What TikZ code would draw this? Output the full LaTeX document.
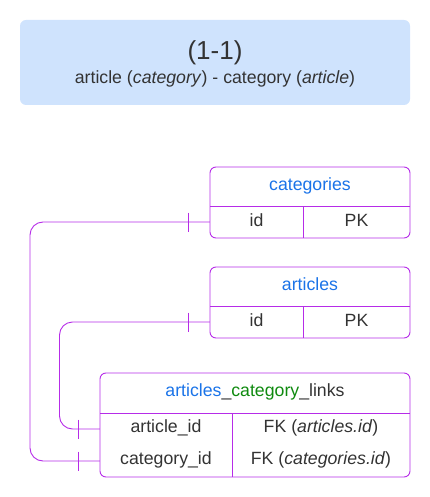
\documentclass[tikz,border=0pt]{standalone}
\usepackage{fontspec}
\setmainfont{Liberation Sans}
\definecolor{ercol}{HTML}{B62CE8}
\definecolor{hdrfill}{HTML}{CFE3FD}
\definecolor{txt}{HTML}{333333}
\definecolor{tblue}{HTML}{1A73E8}
\definecolor{tgreen}{HTML}{0F8A0F}
\begin{document}
\begin{tikzpicture}[x=1pt,y=-1pt,
  erline/.style={draw=ercol, line width=0.9pt},
  tbl/.style={draw=ercol, line width=0.9pt, rounded corners=6pt, inner sep=0pt},
  cell/.style={inner sep=0pt, anchor=base, text=txt, font=\fontsize{17.7}{21}\selectfont},
  rowbox/.style={minimum height=32pt, inner sep=0pt},
  conn/.style={draw=ercol, line width=0.9pt, rounded corners=13pt},
  tickmark/.style={draw=ercol, line width=0.9pt}]
\useasboundingbox (0,0) rectangle (430,497);
% header
\node[fill=hdrfill, rounded corners=6pt, minimum width=390pt, minimum height=85pt, inner sep=0pt] (hdr) at (215,62.5) {};
\node[cell, font=\fontsize{26}{30}\selectfont] (title) at (215,60) {(1-1)};
\node[cell] (sub) at (215,83.3) {article (\textit{category}) - category (\textit{article})};
% categories table
\node[tbl, minimum width=200pt, minimum height=71pt] (cat) at (310,202.5) {};
\draw[erline] (210,206) -- (410,206);
\draw[erline] (303,206) -- (303,238);
\node[cell, text=tblue] (catname) at (310,190) {categories};
\node[rowbox, minimum width=200pt] (catrow) at (310,222) {};
\node[cell] (catid) at (256.5,226) {id};
\node[cell] (catpk) at (356.5,226) {PK};
% articles table
\node[tbl, minimum width=200pt, minimum height=71pt] (art) at (310,302.5) {};
\draw[erline] (210,306) -- (410,306);
\draw[erline] (303,306) -- (303,338);
\node[cell, text=tblue] (artname) at (310,290) {articles};
\node[rowbox, minimum width=200pt] (artrow) at (310,322) {};
\node[cell] (artid) at (256.5,326) {id};
\node[cell] (artpk) at (356.5,326) {PK};
% links table
\node[tbl, minimum width=310pt, minimum height=104pt] (lnk) at (255,425) {};
\draw[erline] (100,413) -- (410,413);
\draw[erline] (232,413) -- (232,477);
\node[cell] (lnkname) at (255,396.5) {\textcolor{tblue}{articles}\_\textcolor{tgreen}{category}\_links};
\node[rowbox, minimum width=310pt] (lnkartrow) at (255,429) {};
\node[rowbox, minimum width=310pt] (lnkcatrow) at (255,461) {};
\node[cell] (lnkartid) at (166,432.7) {article\_id};
\node[cell] (lnkartfk) at (321,432.7) {FK (\textit{articles.id})};
\node[cell] (lnkcatid) at (166,464) {category\_id};
\node[cell] (lnkcatfk) at (321,464) {FK (\textit{categories.id})};
% connectors
\coordinate (k1) at (30,222);
\coordinate (k2) at (30,461);
\coordinate (k3) at (59.5,322);
\coordinate (k4) at (59.5,429);
\draw[conn] (catrow.west) -- (k1) -- (k2) -- (lnkcatrow.west);
\draw[conn] (artrow.west) -- (k3) -- (k4) -- (lnkartrow.west);
% ticks
\draw[tickmark] ([shift={(-21,-9.5)}]catrow.west) -- ([shift={(-21,9.5)}]catrow.west);
\draw[tickmark] ([shift={(-21,-9.5)}]artrow.west) -- ([shift={(-21,9.5)}]artrow.west);
\draw[tickmark] ([shift={(-21,-9.5)}]lnkartrow.west) -- ([shift={(-21,9.5)}]lnkartrow.west);
\draw[tickmark] ([shift={(-21,-9.5)}]lnkcatrow.west) -- ([shift={(-21,9.5)}]lnkcatrow.west);
\end{tikzpicture}
\end{document}
